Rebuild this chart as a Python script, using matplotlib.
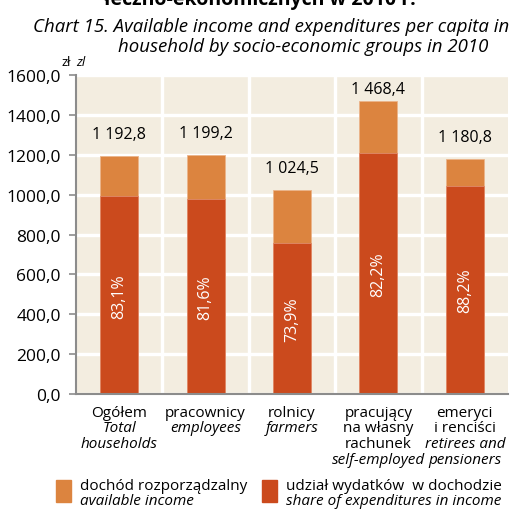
import numpy as np
import matplotlib
matplotlib.use('Agg')
import matplotlib.pyplot as plt
from matplotlib.patches import Rectangle

plt.rcParams['font.family'] = ['Open Sans', 'DejaVu Sans']

# data
groups_pl = [['Ogółem'], ['pracownicy'], ['rolnicy'],
             ['pracujący', 'na własny', 'rachunek'], ['emeryci', 'i renciści']]
groups_en = [['Total', 'households'], ['employees'], ['farmers'],
             ['self-employed'], ['retirees and', 'pensioners']]
income = [1192.8, 1199.2, 1024.5, 1468.4, 1180.8]
share = [83.1, 81.6, 73.9, 82.2, 88.2]
yticks = [0, 200, 400, 600, 800, 1000, 1200, 1400, 1600]

ORANGE = '#DC843F'
DARK = '#CB4A1D'
BEIGE = '#F3EDE0'
GRAY = '#8C8C8C'
FS = 11

fig = plt.figure(figsize=(5.27, 5.10), dpi=100)
ax = fig.add_axes([76 / 527, 115 / 510, 432 / 527, 319 / 510])
ax.set_facecolor(BEIGE)

x = np.arange(len(income))
spent = [i * s / 100 for i, s in zip(income, share)]

ax.bar(x, income, width=0.44, color=ORANGE, edgecolor='#EBB48A', linewidth=0.6, zorder=3)
ax.bar(x, spent, width=0.44, color=DARK, edgecolor='#E08A6A', linewidth=0.6, zorder=4)

# white grid: horizontal lines and vertical cell separators
for v in yticks:
    ax.axhline(v, color='white', lw=2.4, zorder=1)
for b in x[:-1] + 0.5:
    ax.axvline(b, color='white', lw=2.4, zorder=1)

ax.set_xlim(-0.5, len(income) - 0.5)
ax.set_ylim(0, 1600)
ax.set_yticks(yticks)
ax.set_yticklabels([f'{v:.1f}'.replace('.', ',') for v in yticks], fontsize=12.5)
ax.tick_params(axis='y', direction='out', length=5, width=1.2, color=GRAY, pad=6)
ax.set_xticks([])
for s in ['top', 'right']:
    ax.spines[s].set_visible(False)
for s in ['left', 'bottom']:
    ax.spines[s].set_color(GRAY)
    ax.spines[s].set_linewidth(1.5)
    ax.spines[s].set_zorder(5)

# value labels
for xi, tot, sp, sh in zip(x, income, spent, share):
    ty = min(tot + 110, 1530)
    lab = f'{tot:,.1f}'.replace(',', ' ').replace('.', ',')
    ax.text(xi, ty, lab, ha='center', va='center', fontsize=11.5, zorder=6)
    ax.text(xi, sp / 2, f'{sh:.1f}%'.replace('.', ','), ha='center', va='center',
            rotation=90, color='white', fontsize=11.5, zorder=6)

# category labels
for xi, pl, en in zip(x, groups_pl, groups_en):
    lines = [(t, 'normal') for t in pl] + [(t, 'italic') for t in en]
    for k, (t, st) in enumerate(lines):
        ax.annotate(t, xy=(xi, 0), xycoords=('data', 'axes fraction'),
                    xytext=(0, -13 - 11.3 * k), textcoords='offset points',
                    ha='center', va='center', fontsize=FS, style=st)

# titles
fig.text(260 / 527, 1.0, 'łeczno-ekonomicznych w 2010 r.', ha='center', va='center',
         fontsize=14, fontweight='bold')
fig.text(33 / 527, 1 - 27 / 510, 'Chart 15. Available income and expenditures per capita in',
         ha='left', va='center', fontsize=13.4, style='italic')
fig.text(118 / 527, 1 - 47 / 510, 'household by socio-economic groups in 2010',
         ha='left', va='center', fontsize=13.4, style='italic')
fig.text(62 / 527, 1 - 62 / 510, 'zł', ha='left', va='center', fontsize=9.5)
fig.text(76 / 527, 1 - 62 / 510, 'zl', ha='left', va='center', fontsize=9.5, style='italic')

# legend
fig.patches.append(Rectangle((56 / 527, 1 - 503 / 510), 15 / 527, 22 / 510,
                             transform=fig.transFigure, color=ORANGE, figure=fig))
fig.patches.append(Rectangle((262 / 527, 1 - 503 / 510), 15 / 527, 22 / 510,
                             transform=fig.transFigure, color=DARK, figure=fig))
fig.text(80 / 527, 1 - 487 / 510, 'dochód rozporządzalny', ha='left', va='center', fontsize=FS)
fig.text(80 / 527, 1 - 502 / 510, 'available income', ha='left', va='center',
         fontsize=FS, style='italic')
fig.text(286 / 527, 1 - 487 / 510, 'udział wydatków  w dochodzie', ha='left', va='center',
         fontsize=FS)
fig.text(286 / 527, 1 - 502 / 510, 'share of expenditures in income', ha='left', va='center',
         fontsize=FS, style='italic')

fig.savefig('out.png', dpi=100)
